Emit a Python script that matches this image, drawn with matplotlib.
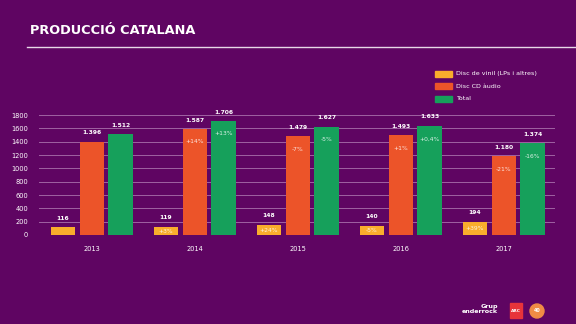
import matplotlib.pyplot as plt
from matplotlib.patches import Rectangle, Ellipse
import numpy as np

years = ['2013', '2014', '2015', '2016', '2017']
vinil = [116, 119, 148, 140, 194]
cd = [1396, 1587, 1479, 1493, 1180]
total = [1512, 1706, 1627, 1633, 1374]
vinil_lbl = ['116', '119', '148', '140', '194']
cd_lbl = ['1.396', '1.587', '1.479', '1.493', '1.180']
total_lbl = ['1.512', '1.706', '1.627', '1.633', '1.374']
vinil_pct = ['', '+3%', '+24%', '-5%', '+39%']
cd_pct = ['', '+14%', '-7%', '+1%', '-21%']
total_pct = ['', '+13%', '-5%', '+0,4%', '-16%']

BG = '#5f0562'
C_VIN = '#f9ad2c'
C_CD = '#ec5429'
C_TOT = '#16a05b'
GRID = '#a062a3'

fig = plt.figure(figsize=(5.76, 3.24), dpi=100, facecolor=BG)
ax = fig.add_axes([0.068, 0.2747, 0.896, 0.3703])
ax.set_facecolor(BG)

x = np.arange(len(years))
off = 0.28
w = 0.235
series = [(vinil, vinil_lbl, vinil_pct, C_VIN, -off),
          (cd, cd_lbl, cd_pct, C_CD, 0),
          (total, total_lbl, total_pct, C_TOT, off)]
for vals, lbls, pcts, col, dx in series:
    bars = ax.bar(x + dx, vals, width=w, color=col, zorder=3)
    for b, v, l, p in zip(bars, vals, lbls, pcts):
        cx = b.get_x() + b.get_width() / 2
        ax.text(cx, v + 100, l, ha='center', va='bottom', color='white',
                fontsize=4.3, fontweight='bold')
        if p:
            ypos = v / 2 if v < 400 else v - 190
            ax.text(cx, ypos, p, ha='center', va='center', color='white',
                    fontsize=4.3, alpha=0.85)

ax.set_xlim(-0.51, 4.5)
ax.set_ylim(0, 1800)
ax.set_yticks(range(0, 1801, 200))
ax.set_xticks(x)
ax.set_xticklabels(years)
ax.grid(axis='y', color=GRID, linewidth=0.7, zorder=0)
ax.tick_params(length=0, colors='white', labelsize=4.8, pad=8)
ax.tick_params(axis='x', pad=8)
for s in ax.spines.values():
    s.set_visible(False)

# title and rule
fig.text(0.052, 0.905, 'PRODUCCIÓ CATALANA', color='white', fontsize=9.3,
         fontweight='bold', va='center')
fig.add_artist(plt.Line2D([0.047, 1.0], [0.856, 0.856], color='#e8d8e8',
                          linewidth=1.0))

# legend
leg = [('Disc de vinil (LPs i altres)', C_VIN),
       ('Disc CD àudio', C_CD),
       ('Total', C_TOT)]
for i, (name, col) in enumerate(leg):
    yy = 1 - (74 + 12.3 * i) / 324
    fig.add_artist(Rectangle((435 / 576, yy - 0.009), 17 / 576, 0.018,
                             color=col, transform=fig.transFigure))
    fig.text(456 / 576, yy, name, color='white', fontsize=4.6, va='center')

# logos
fig.text(498 / 576, 1 - 309 / 324, 'Grup\nenderrock', color='white',
         fontsize=4.6, fontweight='bold', ha='right', va='center',
         linespacing=0.85)
fig.add_artist(Rectangle((510 / 576, 1 - 318 / 324), 12 / 576, 15 / 324,
                         color='#e8343a', transform=fig.transFigure))
fig.text(516 / 576, 1 - 311 / 324, 'ARC', color='white', fontsize=3.2,
         ha='center', va='center', fontweight='bold')
fig.add_artist(Ellipse((537 / 576, 1 - 311 / 324), 14 / 576, 14 / 324,
                       color='#f08c45', transform=fig.transFigure))
fig.text(537 / 576, 1 - 311 / 324, '40', color='white', fontsize=3.5,
         ha='center', va='center', fontweight='bold')

fig.savefig('out.png', dpi=100, facecolor=BG)
